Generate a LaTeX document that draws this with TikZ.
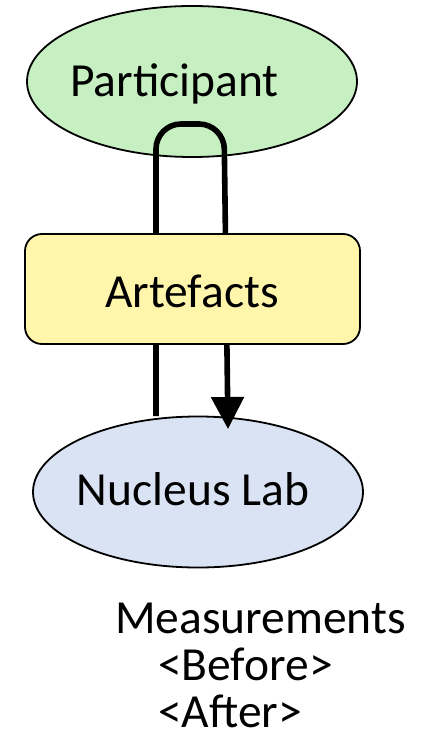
\documentclass[tikz,border=0pt]{standalone}
\usepackage{fontspec}
\setmainfont{Carlito}
\usetikzlibrary{shapes.geometric,arrows.meta}
\definecolor{pgreen}{HTML}{C6F0C1}
\definecolor{ayellow}{HTML}{FFF5AB}
\definecolor{nblue}{HTML}{DAE3F3}
\tikzset{
  blob/.style={ellipse,draw=black,line width=1.8pt,inner sep=0pt,minimum width=330pt,minimum height=151pt},
  boxy/.style={rectangle,rounded corners=17pt,draw=black,line width=1.8pt,inner sep=0pt,minimum width=335pt,minimum height=110pt},
  lbl/.style={inner sep=0pt,font=\fontsize{47.5}{56}\selectfont},
  conn/.style={line width=5.6pt,draw=black}
}
\begin{document}
\begin{tikzpicture}[x=1pt,y=-1pt]
\useasboundingbox (0,0) rectangle (433,751);
\node[blob,fill=pgreen] (part) at (192,81.5) {};
\node[lbl,anchor=base] (parttext) at (174.5,97) {Participant};
\node[blob,fill=nblue] (nuc) at (198,492) {};
\node[lbl,anchor=base] (nuctext) at (193,505) {Nucleus Lab};
\coordinate (s) at (156,416);
\coordinate (l) at (156,124);
\coordinate (r) at (224,124);
\coordinate (e) at (228,429);
\draw[conn,rounded corners=25pt,-{Triangle[length=32pt,width=32pt]}] (s) -- (l) -- (r) -- (e);
\node[boxy,fill=ayellow] (art) at (192.5,289) {};
\node[lbl,anchor=base] (arttext) at (192,307) {Artefacts};
\node[lbl,anchor=base west] (m1) at (115,633) {Measurements};
\node[lbl,anchor=base west] (m2) at (158,680) {<Before>};
\node[lbl,anchor=base west] (m3) at (158,727) {<After>};
\end{tikzpicture}
\end{document}
